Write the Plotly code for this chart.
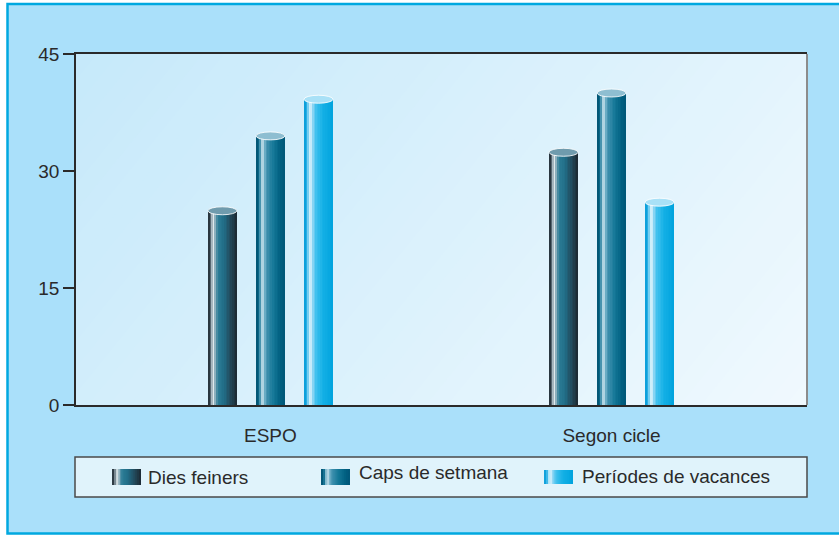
import plotly.graph_objects as go

# ---------------- data ----------------
categories = ["ESPO", "Segon cicle"]
series_names = ["Dies feiners", "Caps de setmana", "Períodes de vacances"]
dies_feiners = [24.9, 32.4]
caps_de_setmana = [34.5, 40.0]
periodes_vacances = [39.2, 26.0]
y_ticks = [0, 15, 30, 45]

# ---------------- layout geometry ----------------
W, H = 839, 536
ML, MR, MT, MB = 76, 32, 54, 131
PW = W - ML - MR
PH = H - MT - MB


def pxx(px):
    return (px - ML) / PW


def pxy(py):
    return 1 - (py - MT) / PH


cat_pos = [0, 1]
X_RANGE = [-0.570, 1.573]
group_off = [-0.1408, 0.0, 0.1408]
bar_w = 0.085
Y_RANGE = [0, 45]


def hex2rgb(h):
    h = h.lstrip("#")
    return tuple(int(h[i:i + 2], 16) for i in (0, 2, 4))


def interp(stops, t):
    for (t0, c0), (t1, c1) in zip(stops[:-1], stops[1:]):
        if t0 <= t <= t1:
            f = 0 if t1 == t0 else (t - t0) / (t1 - t0)
            a, b = hex2rgb(c0), hex2rgb(c1)
            return "rgb(%d,%d,%d)" % tuple(round(a[k] + (b[k] - a[k]) * f) for k in range(3))
    return stops[-1][1]


dies_stops = [(0, '#17222a'), (0.07, '#44545e'), (0.14, '#a8b8c0'), (0.2, '#e6eef0'),
              (0.26, '#7aa2b2'), (0.33, '#2c7e98'), (0.55, '#216d87'), (0.8, '#224657'), (1, '#1c2831')]
caps_stops = [(0, '#00506e'), (0.1, '#0a6a8c'), (0.17, '#78b4ca'), (0.22, '#e6f3f8'),
              (0.28, '#78b6cc'), (0.38, '#3f90ae'), (0.6, '#157898'), (0.85, '#005f80'), (1, '#005678')]
per_stops = [(0, '#0098d6'), (0.1, '#30b3e7'), (0.17, '#b2e4f7'), (0.22, '#ecf9fe'),
             (0.29, '#90d7f4'), (0.42, '#3fc0ee'), (0.65, '#14b0e6'), (1, '#00a3dd')]
top_colors = ['#6f9bad', '#8ebed1', '#a9e1f7']

series_values = [dies_feiners, caps_de_setmana, periodes_vacances]
series_stops = [dies_stops, caps_stops, per_stops]

fig = go.Figure()
N = 18
s = bar_w / N
for si, (vals, stops) in enumerate(zip(series_values, series_stops)):
    for i in range(N):
        t = (i + 0.5) / N
        col = interp(stops, t)
        xs = [c + group_off[si] - bar_w / 2 + i * s for c in cat_pos]
        fig.add_trace(go.Bar(
            x=xs, y=vals, width=s * (1.6 if i < N - 1 else 1.0), offset=0,
            marker=dict(color=col, line=dict(width=0)),
            name=series_names[si], showlegend=False, hoverinfo="skip"))

shapes = []
# outer frame
shapes.append(dict(type="rect", xref="paper", yref="paper", layer="below",
                   x0=pxx(7.5), x1=pxx(860), y0=pxy(533.5), y1=pxy(4),
                   fillcolor="#aae0fa", line=dict(color="#00a8e0", width=2.5)))

# plot background gradient (diagonal)
def clip(poly, a, b, c):
    out = []
    n = len(poly)
    for k in range(n):
        p, q = poly[k], poly[(k + 1) % n]
        fp = a * p[0] + b * p[1] - c
        fq = a * q[0] + b * q[1] - c
        if fp >= 0:
            out.append(p)
        if (fp >= 0) != (fq >= 0):
            f = fp / (fp - fq)
            out.append((p[0] + (q[0] - p[0]) * f, p[1] + (q[1] - p[1]) * f))
    return out

sq = [(0, 0), (1, 0), (1, 1), (0, 1)]
NB = 48
bg0, bg1 = '#c6e9fa', '#f0f9fe'
for k in range(NB):
    t = k / NB
    poly = clip(sq, 0.72, -0.28, t - 0.28)
    if len(poly) < 3:
        continue
    col = interp([(0, bg0), (1, bg1)], (k + 0.5) / NB)
    path = "M " + " L ".join("%.5f,%.5f" % p for p in poly) + " Z"
    shapes.append(dict(type="path", xref="paper", yref="paper", layer="below",
                       path=path, fillcolor=col, line=dict(width=0)))

# right edge grey line of plot
shapes.append(dict(type="line", xref="paper", yref="paper", layer="above",
                   x0=1, x1=1, y0=0, y1=1, line=dict(color="#8c8c8c", width=2)))

# cylinder tops
half_h = 0.51
for si, vals in enumerate(series_values):
    for c, v in zip(cat_pos, vals):
        x0 = c + group_off[si] - bar_w / 2
        shapes.append(dict(type="circle", xref="x", yref="y", layer="above",
                           x0=x0, x1=x0 + bar_w, y0=v - half_h, y1=v + half_h,
                           fillcolor=top_colors[si],
                           line=dict(color="rgba(255,255,255,0.85)", width=1)))

# legend box
shapes.append(dict(type="rect", xref="paper", yref="paper", layer="above",
                   x0=pxx(75), x1=pxx(807), y0=pxy(497), y1=pxy(457),
                   fillcolor="#e0f3fb", line=dict(color="#4a4a4a", width=1.5)))
sw_x = [112, 321, 544]
sw_y = [(469, 485), (469, 485), (470, 484)]
txt_x = [146, 357, 580]
txt_y = [477, 473, 476]
SW = 29
NS = 14
annotations = []
for si in range(3):
    for i in range(NS):
        t = (i + 0.5) / NS
        col = interp(series_stops[si], t)
        a = sw_x[si] + SW * i / NS
        b = sw_x[si] + SW * (i + 1) / NS + (0.6 if i < NS - 1 else 0)
        shapes.append(dict(type="rect", xref="paper", yref="paper", layer="above",
                           x0=pxx(a), x1=pxx(b), y0=pxy(sw_y[si][1]), y1=pxy(sw_y[si][0]),
                           fillcolor=col, line=dict(width=0)))
    annotations.append(dict(xref="paper", yref="paper", x=pxx(txt_x[si]), y=pxy(txt_y[si]),
                            xanchor="left", yanchor="middle", showarrow=False,
                            text=series_names[si],
                            font=dict(size=19, color="#2a2a2a",
                                      family="Liberation Sans, Arial, sans-serif")))

fig.update_layout(
    width=W, height=H,
    margin=dict(l=ML, r=MR, t=MT, b=MB, pad=0),
    paper_bgcolor="white", plot_bgcolor="#d8f0fb",
    barmode="overlay", bargap=0, showlegend=False,
    font=dict(family="Liberation Sans, Arial, sans-serif", size=19, color="#2a2a2a"),
    shapes=shapes, annotations=annotations,
    xaxis=dict(range=X_RANGE, tickvals=cat_pos, ticktext=categories,
               showline=True, linecolor="#2a2a2a", linewidth=1.5, mirror=True,
               ticks="outside", ticklen=12, tickcolor="rgba(0,0,0,0)",
               showgrid=False, zeroline=False, fixedrange=True),
    yaxis=dict(range=Y_RANGE, tickvals=y_ticks, ticktext=[str(v) for v in y_ticks],
               showline=True, linecolor="#2a2a2a", linewidth=1.5,
               ticks="outside", ticklen=11, tickwidth=1.5, tickcolor="#2a2a2a",
               showgrid=False, zeroline=False, fixedrange=True),
)

fig.write_html("out.html", config={"displayModeBar": False},
               post_script="document.body.style.margin='0px';document.body.style.overflow='hidden';")
